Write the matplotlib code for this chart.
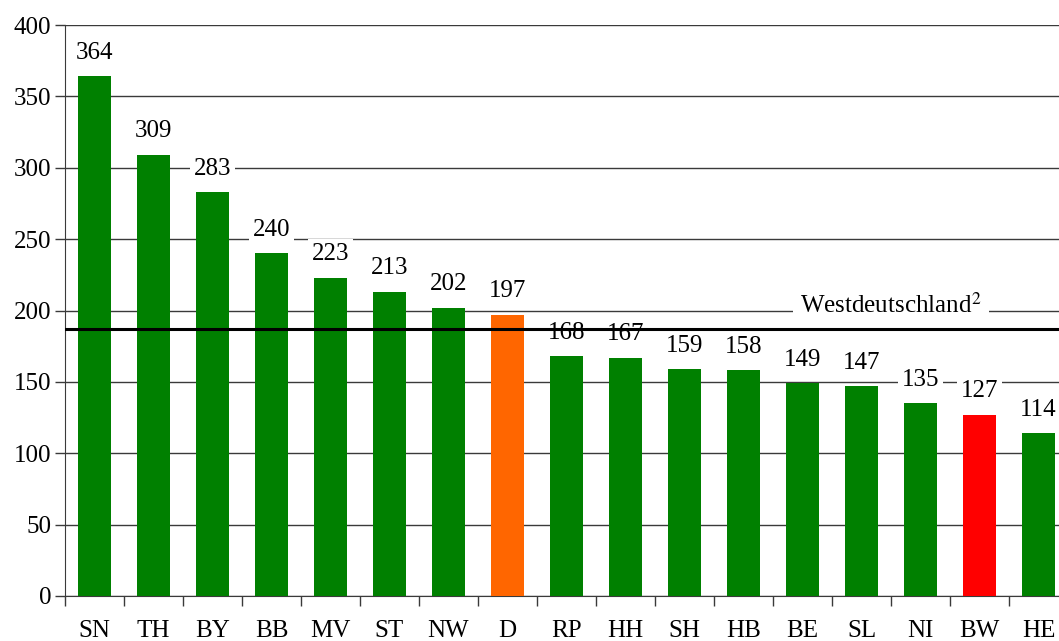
import numpy as np
import matplotlib.pyplot as plt

plt.rcParams['font.family'] = ['Liberation Serif', 'DejaVu Serif']

laender = ['SN', 'TH', 'BY', 'BB', 'MV', 'ST', 'NW', 'D', 'RP', 'HH',
           'SH', 'HB', 'BE', 'SL', 'NI', 'BW', 'HE']
werte = [364, 309, 283, 240, 223, 213, 202, 197, 168, 167,
         159, 158, 149, 147, 135, 127, 114]
westdeutschland = 187

farben = ['#008000'] * len(laender)
farben[laender.index('D')] = '#FF6600'
farben[laender.index('BW')] = '#FF0000'

fs = 18

fig = plt.figure(figsize=(10.59, 6.41), dpi=100)
ax = fig.add_axes([65/1059, 1 - 596/641, 1003/1059, 571/641])

x = np.arange(len(laender))
ax.bar(x, werte, width=0.56, color=farben, zorder=3)

ax.set_ylim(0, 400)
ax.set_xlim(-0.5, len(laender) - 0.5)
ax.set_yticks(np.arange(0, 401, 50))
ax.yaxis.grid(True, color='#3a3a3a', linewidth=1.0, zorder=0)

# labels over bars, white box hides grid lines
for xi, v in zip(x, werte):
    ax.annotate(str(v), (xi, v), xytext=(0, 9), textcoords='offset points',
                ha='center', va='bottom', fontsize=fs, zorder=4,
                bbox=dict(boxstyle='square,pad=0.15', fc='white', ec='none'))

ax.axhline(westdeutschland, color='black', linewidth=2.2, zorder=5)
ax.text(13.5, 203.5, 'Westdeutschland$^2$', ha='center', va='center',
        fontsize=fs, zorder=4, math_fontfamily='stix',
        bbox=dict(boxstyle='square,pad=0.3', fc='white', ec='none'))

ax.set_xticks(x)
ax.set_xticklabels(laender)
ax.set_xticks(np.arange(-0.5, len(laender), 1), minor=True)
ax.tick_params(axis='x', which='major', length=0, pad=17, labelsize=fs)
ax.tick_params(axis='x', which='minor', length=7, width=1, color='#3a3a3a', direction='out')
ax.tick_params(axis='y', length=7, width=1, color='#3a3a3a', labelsize=fs, pad=3)

for s in ['top', 'right']:
    ax.spines[s].set_visible(False)
ax.spines['left'].set_color('#3a3a3a')
ax.spines['bottom'].set_color('#3a3a3a')

fig.savefig('out.png', dpi=100)
